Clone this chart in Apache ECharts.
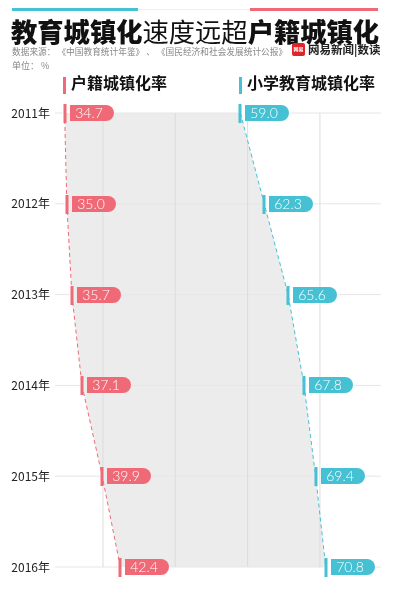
<!DOCTYPE html>
<html><head><meta charset="utf-8">
<script src="https://cdn.jsdelivr.net/npm/echarts@6/dist/echarts.min.js"></script>
<style>html,body{margin:0;padding:0;background:#fff}#c{width:396px;height:593px}</style>
</head><body><div id="c"></div>
<script>
const years = ['2011年','2012年','2013年','2014年','2015年','2016年'];
const huji = [34.7, 35.0, 35.7, 37.1, 39.9, 42.4];
const xiaoxue = [59.0, 62.3, 65.6, 67.8, 69.4, 70.8];
const gridValues = [40, 50, 60, 70];

const PINK = '#ef6a76';
const BLUE = '#45c1d3';
const CJK = '"Noto Sans CJK SC", sans-serif';
const NUMF = 'Lato, "Open Sans", sans-serif';
const XMIN = 33.37, XMAX = 78.44;

const chart = echarts.init(document.getElementById('c'), null, {renderer: 'canvas'});

function lineSeries(name, arr, color) {
  return {
    name, type: 'line', data: arr.map((v, i) => [v, i]), z: 3,
    symbol: 'none',
    lineStyle: {color, width: 1, type: [4, 3]},
    emphasis: {disabled: true},
    animation: false
  };
}

function pillSeries(name, arr, color) {
  return {
    name: name + '标签', type: 'custom', z: 6,
    data: arr.map((v, i) => [v, i]),
    renderItem: (params, api) => {
      const p = api.coord([api.value(0), api.value(1)]);
      const x = Math.round(p[0]), y = Math.round(p[1]);
      return {
        type: 'group',
        children: [
          {type: 'rect', shape: {x: x - 1.5, y: y - 9, width: 3, height: 19}, style: {fill: color, stroke: null}},
          {type: 'rect', shape: {x: x + 5, y: y - 8, width: 44, height: 16, r: [0, 8, 8, 0]}, style: {fill: color, stroke: null}},
          {type: 'text', x: x + 24, y: y, style: {
            text: api.value(0).toFixed(1), fill: '#fff', fontFamily: NUMF, fontSize: 14, fontWeight: 300,
            align: 'center', verticalAlign: 'middle'
          }}
        ]
      };
    }
  };
}

chart.setOption({
  animation: false,
  grid: {left: 55, right: 15, top: 113, bottom: 26},
  xAxis: {type: 'value', min: XMIN, max: XMAX, show: false, splitLine: {show: false}},
  yAxis: {
    type: 'category', data: years, inverse: true, boundaryGap: false,
    axisLine: {show: false}, axisTick: {show: false},
    axisLabel: {color: '#222', fontSize: 12, fontFamily: CJK, margin: 5},
    splitLine: {show: false}
  },
  series: [
    {
      type: 'custom', z: 1,
      data: [0],
      renderItem: (params, api) => {
        const children = [];
        const pts = [];
        for (let i = 0; i < huji.length; i++) pts.push(api.coord([huji[i], i]));
        for (let i = xiaoxue.length - 1; i >= 0; i--) pts.push(api.coord([xiaoxue[i], i]));
        children.push({type: 'polygon', shape: {points: pts}, style: {fill: '#ececec'}});
        for (let i = 0; i < years.length; i++) {
          const a = api.coord([XMIN, i]), b = api.coord([XMAX, i]);
          const pk = api.coord([huji[i], i])[0], bl = api.coord([xiaoxue[i], i])[0];
          const segs = [[a[0], pk - 2], [pk + 50, bl - 2], [bl + 50, b[0]]];
          segs.forEach(s => {
            if (s[1] > s[0]) children.push({type: 'line', shape: {x1: s[0], y1: a[1], x2: s[1], y2: a[1]}, style: {stroke: '#e6e6e6', lineWidth: 1}});
          });
        }
        gridValues.forEach(v => {
          const a = api.coord([v, 0]), b = api.coord([v, years.length - 1]);
          children.push({type: 'line', shape: {x1: a[0], y1: a[1], x2: b[0], y2: b[1]}, style: {stroke: '#dcdcdc', lineWidth: 1}});
        });
        return {type: 'group', children};
      }
    },
    lineSeries('户籍城镇化率', huji, PINK),
    lineSeries('小学教育城镇化率', xiaoxue, BLUE),
    pillSeries('户籍城镇化率', huji, PINK),
    pillSeries('小学教育城镇化率', xiaoxue, BLUE)
  ],
  graphic: [
    {type: 'rect', shape: {x: 12, y: 8, width: 126, height: 3}, style: {fill: BLUE}},
    {type: 'rect', shape: {x: 138, y: 9, width: 112, height: 1}, style: {fill: '#eeeeee'}},
    {type: 'rect', shape: {x: 250, y: 8, width: 128, height: 3}, style: {fill: PINK}},
    {type: 'text', left: 11, top: 19, style: {
      text: '{b|教育城镇化}{n|速度远超}{b|户籍城镇化}',
      rich: {
        b: {fontFamily: CJK, fontSize: 26.3, fontWeight: 900, fill: '#111'},
        n: {fontFamily: CJK, fontSize: 26.3, fontWeight: 400, fill: '#111'}
      }
    }},
    {type: 'text', left: 12, top: 47, style: {
      text: '数据来源： 《中国教育统计年鉴》 、 《国民经济和社会发展统计公报》',
      fontFamily: CJK, fontSize: 8.7, fill: '#888'
    }},
    {type: 'text', left: 12, top: 61, style: {text: '单位： %', fontFamily: CJK, fontSize: 9, fill: '#888'}},
    {type: 'rect', shape: {x: 292, y: 43, width: 13, height: 13, r: 2}, style: {fill: '#e0242c'}},
    {type: 'text', x: 298.5, y: 49.5, style: {text: '网易', fontFamily: CJK, fontSize: 5, fontWeight: 700, fill: '#fff', align: 'center', verticalAlign: 'middle'}},
    {type: 'text', left: 308, top: 44, style: {text: '网易新闻|数读', fontFamily: CJK, fontSize: 11.5, fontWeight: 700, fill: '#222'}},
    {type: 'rect', shape: {x: 63, y: 77, width: 3, height: 17}, style: {fill: PINK}},
    {type: 'text', left: 71, top: 75, style: {text: '户籍城镇化率', fontFamily: CJK, fontSize: 16, fontWeight: 700, fill: '#111'}},
    {type: 'rect', shape: {x: 239, y: 77, width: 3, height: 17}, style: {fill: BLUE}},
    {type: 'text', left: 247, top: 75, style: {text: '小学教育城镇化率', fontFamily: CJK, fontSize: 16, fontWeight: 700, fill: '#111'}}
  ]
});
</script></body></html>
